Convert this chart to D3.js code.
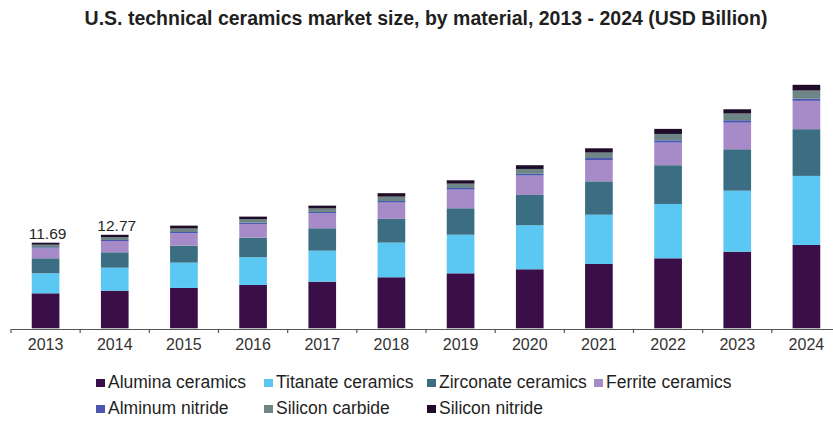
<!DOCTYPE html>
<html>
<head>
<meta charset="utf-8">
<script src="https://cdn.jsdelivr.net/npm/d3@7"></script>
<style>
  html, body { margin: 0; padding: 0; background: #fff; }
  svg { display: block; font-family: "Liberation Sans", Arial, sans-serif; }
</style>
</head>
<body>
<svg id="chart" width="833" height="423"></svg>
<script>
// U.S. technical ceramics market size by material (USD Billion)
const years = ["2013","2014","2015","2016","2017","2018","2019","2020","2021","2022","2023","2024"];

const materials = ["Alumina ceramics","Titanate ceramics","Zirconate ceramics","Ferrite ceramics",
                   "Alminum nitride","Silicon carbide","Silicon nitride"];

const alumina   = [4.78, 5.14, 5.51, 5.92, 6.37, 6.97, 7.51, 8.06, 8.78, 9.56, 10.46, 11.38];
const titanate  = [2.73, 3.14, 3.46, 3.78, 4.23, 4.73, 5.27, 6.01, 6.73, 7.42, 8.33, 9.43];
const zirconate = [2.05, 2.10, 2.32, 2.68, 3.06, 3.24, 3.61, 4.14, 4.56, 5.29, 5.66, 6.38];
const ferrite   = [1.37, 1.54, 1.69, 1.87, 2.05, 2.23, 2.55, 2.65, 2.91, 3.09, 3.63, 3.87];
const alNitride = [0.13, 0.14, 0.17, 0.17, 0.18, 0.21, 0.22, 0.24, 0.27, 0.31, 0.33, 0.31];
const siCarbide = [0.36, 0.40, 0.48, 0.47, 0.48, 0.60, 0.59, 0.66, 0.75, 0.87, 0.92, 1.10];
const siNitride = [0.27, 0.31, 0.39, 0.36, 0.38, 0.47, 0.46, 0.51, 0.58, 0.69, 0.58, 0.78];

// years whose total is printed above the bar
const labeledYears = ["2013","2014"];

const colors = ["#3a0f48","#5bc8f4","#3b6e82","#a68bc8","#4a56b2","#6e8586","#1e0c28"];

const seriesValues = [alumina, titanate, zirconate, ferrite, alNitride, siCarbide, siNitride];

const rows = years.map((yr, i) => {
  const r = { year: yr };
  materials.forEach((m, k) => { r[m] = seriesValues[k][i]; });
  return r;
});

const svg = d3.select("#chart");
const baseY = 328.3;

const x = d3.scaleBand()
  .domain(years)
  .range([11, 841])
  .paddingInner(0.6)
  .paddingOuter(0.3);

const y = d3.scaleLinear()
  .domain([0, 35])
  .range([baseY, baseY - 35 * 7.323]);

const color = d3.scaleOrdinal().domain(materials).range(colors);

const stacked = d3.stack().keys(materials)(rows);

// title
svg.append("text")
  .attr("x", 426)
  .attr("y", 25)
  .attr("text-anchor", "middle")
  .attr("font-size", 19.5)
  .attr("font-weight", "bold")
  .attr("fill", "#1f1f1f")
  .text("U.S. technical ceramics market size, by material, 2013 - 2024 (USD Billion)");

// stacked bars
svg.append("g")
  .selectAll("g")
  .data(stacked)
  .join("g")
    .attr("fill", d => color(d.key))
  .selectAll("rect")
  .data(d => d)
  .join("rect")
    .attr("x", d => x(d.data.year))
    .attr("width", x.bandwidth())
    .attr("y", d => y(d[1]))
    .attr("height", d => y(d[0]) - y(d[1]));

// totals above the first bars
const totals = rows.map(r => ({ year: r.year, total: d3.sum(materials, m => r[m]) }));
svg.append("g")
  .selectAll("text")
  .data(totals.filter(t => labeledYears.includes(t.year)))
  .join("text")
    .attr("x", d => x(d.year) + x.bandwidth() / 2 + 2)
    .attr("y", d => y(d.total) - 4)
    .attr("text-anchor", "middle")
    .attr("font-size", 15.5)
    .attr("fill", "#262626")
    .text(d => d.total.toFixed(2));

// x axis: baseline with labels, ticks on category boundaries
const axis = svg.append("g")
  .attr("transform", `translate(0,${baseY + 0.7})`)
  .call(d3.axisBottom(x).tickSize(0).tickPadding(10));
axis.select(".domain").attr("stroke", "#555").attr("stroke-width", 1.2);
axis.selectAll(".tick text")
  .attr("font-family", "'Liberation Sans', Arial, sans-serif")
  .attr("font-size", 16)
  .attr("fill", "#333");

const boundaries = d3.range(years.length + 1).map(i => x.range()[0] + i * x.step());
axis.selectAll(".boundary")
  .data(boundaries)
  .join("line")
    .attr("class", "boundary")
    .attr("x1", d => d).attr("x2", d => d)
    .attr("y1", 0).attr("y2", 4)
    .attr("stroke", "#555")
    .attr("stroke-width", 1.2);

// legend
const legendCols = [96, 264, 427, 594];
const legendRows = [388, 414];
const legendItems = materials.map((m, i) => ({
  name: m,
  col: i < 4 ? i : i - 4,
  row: i < 4 ? 0 : 1
}));

const leg = svg.append("g")
  .selectAll("g")
  .data(legendItems)
  .join("g")
    .attr("transform", d => `translate(${legendCols[d.col]},${legendRows[d.row]})`);

leg.append("rect")
  .attr("x", 0)
  .attr("y", -9)
  .attr("width", 9)
  .attr("height", 8)
  .attr("fill", d => color(d.name));

leg.append("text")
  .attr("x", 12)
  .attr("y", 0)
  .attr("font-size", 17.5)
  .attr("fill", "#1f1f1f")
  .text(d => d.name);
</script>
</body>
</html>
